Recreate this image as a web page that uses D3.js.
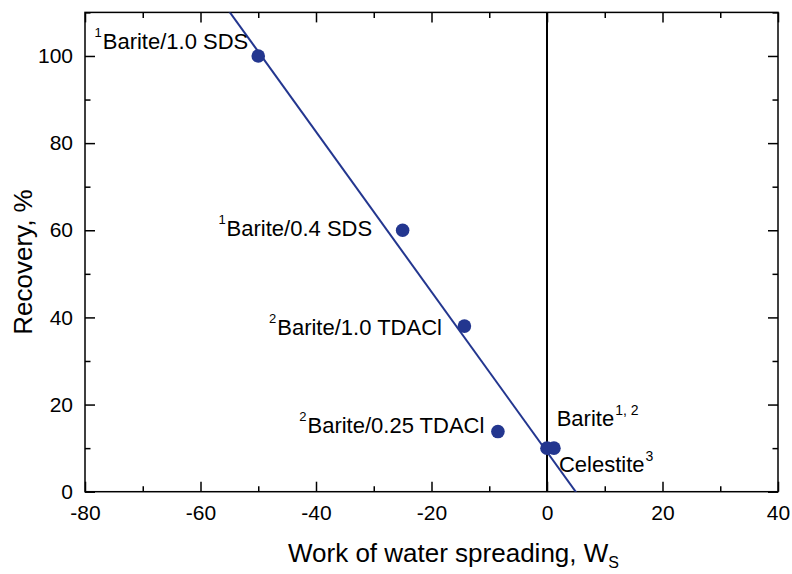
<!DOCTYPE html>
<html>
<head>
<meta charset="utf-8">
<script src="https://cdn.jsdelivr.net/npm/d3@7"></script>
<style>
  html, body { margin: 0; padding: 0; background: #fff; }
  svg { display: block; font-family: "Liberation Sans", Arial, Helvetica, sans-serif; }
</style>
</head>
<body>
<svg id="chart" width="792" height="574"></svg>
<script>
// Flotation recovery versus work of water spreading
const wsValues = [-50, -25, -14.3, -8.5, 0, 1.2];
const recoveryValues = [100, 60, 38, 13.8, 10, 10];

// Fitted trend line: recovery = slope * Ws + intercept
const fitSlope = -1.837;
const fitIntercept = 9.13;

const xTicksMajor = [-80, -60, -40, -20, 0, 20, 40];
const yTicksMajor = [0, 20, 40, 60, 80, 100];

// Point annotations: main text, superscript, whether superscript leads
const labelTexts = ["Barite/1.0 SDS", "Barite/0.4 SDS", "Barite/1.0 TDACl", "Barite/0.25 TDACl", "Barite", "Celestite"];
const labelSups = ["1", "1", "2", "2", "1, 2", "3"];
const labelSupFirst = [true, true, true, true, false, false];

const width = 792, height = 574;
const margin = { top: 12.4, right: 14, bottom: 82.3, left: 85 };
const plotW = width - margin.left - margin.right;
const plotH = height - margin.top - margin.bottom;

const blue = "#23368f";

const svg = d3.select("#chart");
const g = svg.append("g").attr("transform", `translate(${margin.left},${margin.top})`);

const x = d3.scaleLinear().domain([-80, 40]).range([0, plotW]);
const y = d3.scaleLinear().domain([0, 110]).range([plotH, 0]);

// Clip region for the trend line
svg.append("defs").append("clipPath").attr("id", "plotClip")
  .append("rect").attr("width", plotW).attr("height", plotH);

const minorX = d3.range(-80, 41, 10).filter(v => !xTicksMajor.includes(v));
const minorY = d3.range(0, 111, 10).filter(v => !yTicksMajor.includes(v));

const majorLen = 10, minorLen = 5.5;
const plainFormat = d => String(d);

function styleAxis(sel) {
  sel.selectAll(".domain").remove();
  sel.selectAll("line").attr("stroke", "#000").attr("stroke-width", 1.5);
  sel.selectAll("text").attr("fill", "#000").attr("font-size", 21);
}

// Bottom axis (ticks point inward)
const xAxisBottom = g.append("g").attr("transform", `translate(0,${plotH})`)
  .call(d3.axisBottom(x).tickValues(xTicksMajor).tickSizeInner(-majorLen).tickSizeOuter(0).tickFormat(plainFormat));
styleAxis(xAxisBottom);
xAxisBottom.selectAll("text").attr("dy", "0.71em").attr("y", 13);
g.append("g").attr("transform", `translate(0,${plotH})`)
  .call(d3.axisBottom(x).tickValues(minorX).tickSizeInner(-minorLen).tickSizeOuter(0).tickFormat(""))
  .call(styleAxis);

// Top axis (mirrored ticks, no labels)
g.append("g")
  .call(d3.axisTop(x).tickValues(xTicksMajor).tickSizeInner(-majorLen).tickSizeOuter(0).tickFormat(""))
  .call(styleAxis);
g.append("g")
  .call(d3.axisTop(x).tickValues(minorX).tickSizeInner(-minorLen).tickSizeOuter(0).tickFormat(""))
  .call(styleAxis);

// Left axis
const yAxisLeft = g.append("g")
  .call(d3.axisLeft(y).tickValues(yTicksMajor).tickSizeInner(-majorLen).tickSizeOuter(0).tickFormat(plainFormat));
styleAxis(yAxisLeft);
yAxisLeft.selectAll("text").attr("x", -12);
g.append("g")
  .call(d3.axisLeft(y).tickValues(minorY).tickSizeInner(-minorLen).tickSizeOuter(0).tickFormat(""))
  .call(styleAxis);

// Right axis (mirrored ticks)
g.append("g").attr("transform", `translate(${plotW},0)`)
  .call(d3.axisRight(y).tickValues(yTicksMajor).tickSizeInner(-majorLen).tickSizeOuter(0).tickFormat(""))
  .call(styleAxis);
g.append("g").attr("transform", `translate(${plotW},0)`)
  .call(d3.axisRight(y).tickValues(minorY).tickSizeInner(-minorLen).tickSizeOuter(0).tickFormat(""))
  .call(styleAxis);

// Frame
g.append("rect").attr("width", plotW).attr("height", plotH)
  .attr("fill", "none").attr("stroke", "#000").attr("stroke-width", 1.5);

// Vertical reference line at Ws = 0
g.append("line")
  .attr("x1", x(0)).attr("x2", x(0)).attr("y1", 0).attr("y2", plotH)
  .attr("stroke", "#000").attr("stroke-width", 2);

// Trend line
const fitX = [-80, 40];
g.append("line")
  .attr("clip-path", "url(#plotClip)")
  .attr("x1", x(fitX[0])).attr("y1", y(fitSlope * fitX[0] + fitIntercept))
  .attr("x2", x(fitX[1])).attr("y2", y(fitSlope * fitX[1] + fitIntercept))
  .attr("stroke", blue).attr("stroke-width", 2);

// Data points
const points = wsValues.map((v, i) => ({ ws: v, rec: recoveryValues[i] }));
g.selectAll("circle.pt").data(points).join("circle")
  .attr("class", "pt")
  .attr("cx", d => x(d.ws)).attr("cy", d => y(d.rec))
  .attr("r", 6.8).attr("fill", blue);

// Label offsets from their points (px)
const labelOffsets = [
  { dx: -10, dy: -6.5, anchor: "end" },
  { dx: -30.5, dy: 5.7, anchor: "end" },
  { dx: -22.5, dy: 9, anchor: "end" },
  { dx: -13.5, dy: 1.7, anchor: "end" },
  { dx: 9.7, dy: -22.4, anchor: "start" },
  { dx: 5, dy: 23.6, anchor: "start" }
];

points.forEach((p, i) => {
  const off = labelOffsets[i];
  const t = g.append("text")
    .attr("x", x(p.ws) + off.dx)
    .attr("y", y(p.rec) + off.dy)
    .attr("text-anchor", off.anchor)
    .attr("font-size", 22)
    .attr("fill", "#000");
  if (labelSupFirst[i]) {
    t.append("tspan").attr("font-size", 13).attr("dy", -12).text(labelSups[i]);
    t.append("tspan").attr("dy", 12).attr("dx", 1).text(labelTexts[i]);
  } else {
    t.append("tspan").text(labelTexts[i]);
    t.append("tspan").attr("font-size", 14).attr("dy", -11).attr("dx", 1).text(labelSups[i]);
  }
});

// Axis titles
const xt = svg.append("text")
  .attr("x", 288).attr("y", 562)
  .attr("font-size", 26).attr("fill", "#000");
xt.append("tspan").text("Work of water spreading, W");
xt.append("tspan").attr("font-size", 16).attr("dy", 6).text("S");

svg.append("text")
  .attr("transform", `translate(32,262) rotate(-90)`)
  .attr("text-anchor", "middle")
  .attr("font-size", 26).attr("fill", "#000")
  .text("Recovery, %");
</script>
</body>
</html>
